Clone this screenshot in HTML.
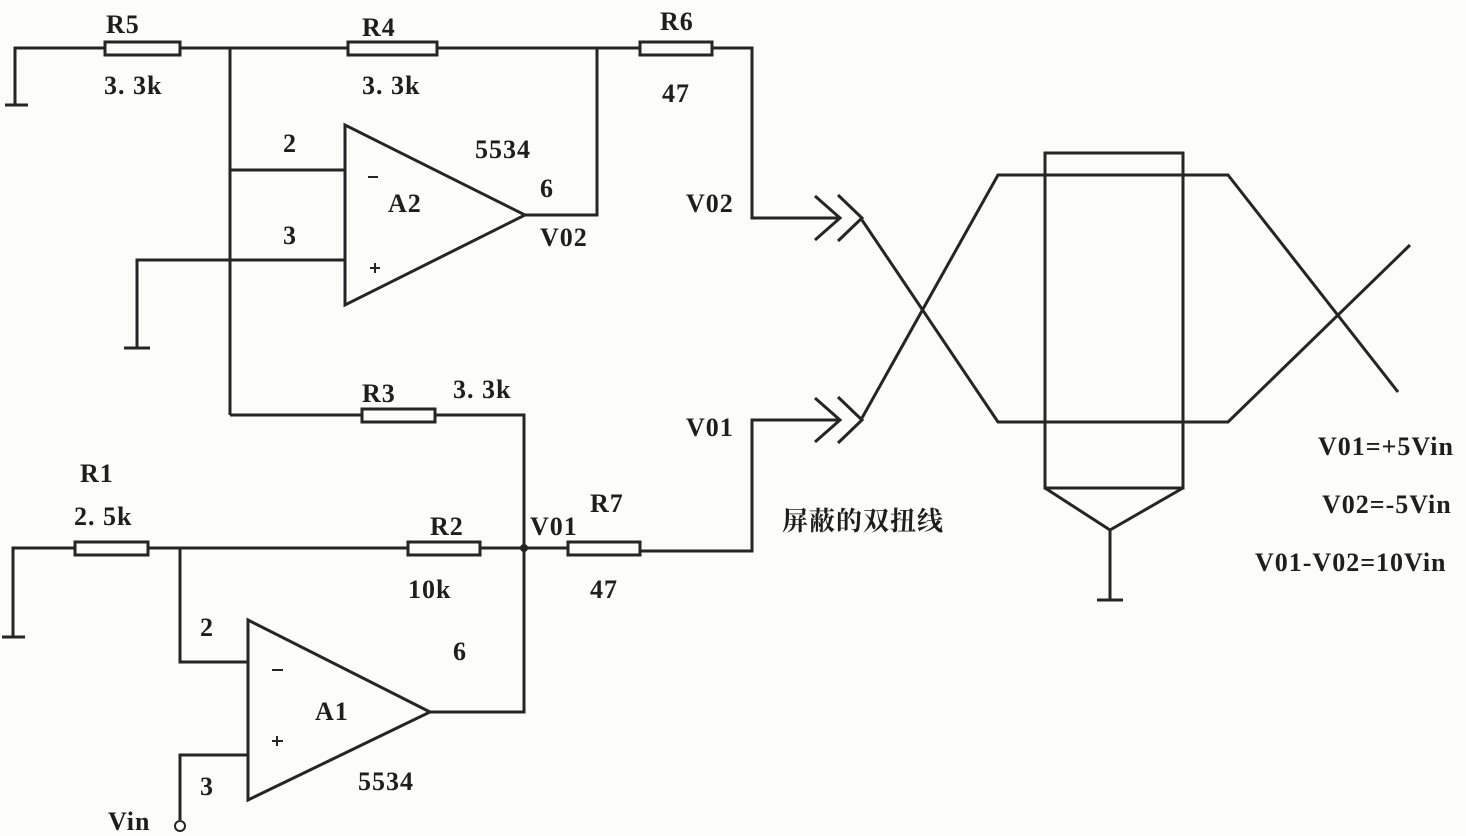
<!DOCTYPE html>
<html><head><meta charset="utf-8"><style>
html,body{margin:0;padding:0;background:#fcfcf8;}
svg{display:block}
text{font-family:"Liberation Serif","Noto Serif CJK SC",serif;font-weight:bold;fill:#1e1e1e;font-size:26px;letter-spacing:1px}
</style></head><body>
<svg width="1466" height="836" viewBox="0 0 1466 836" xmlns="http://www.w3.org/2000/svg">
<g stroke="#252525" stroke-width="3" fill="none" stroke-linejoin="miter">
<polyline points="15,105 15,48 105,48"/>
<line x1="5" y1="105" x2="28" y2="105"/>
<rect x="105" y="42" width="75" height="13"/>
<line x1="180" y1="48" x2="348" y2="48"/>
<rect x="348" y="42" width="89" height="13"/>
<line x1="437" y1="48" x2="640" y2="48"/>
<rect x="640" y="42" width="72" height="13"/>
<polyline points="712,48 752,48 752,218 838,218"/>
<line x1="230" y1="48" x2="230" y2="415"/>
<line x1="230" y1="170" x2="345" y2="170"/>
<polygon points="345,125 345,305 525,215"/>
<polyline points="525,215 597,215 597,48"/>
<polyline points="345,260 137,260 137,348"/>
<line x1="124" y1="348" x2="150" y2="348"/>
<line x1="230" y1="415" x2="362" y2="415"/>
<rect x="362" y="409" width="73" height="13"/>
<polyline points="435,415 524,415 524,712 430,712"/>
<polyline points="13,637 13,548 75,548"/>
<line x1="2" y1="637" x2="25" y2="637"/>
<rect x="75" y="542" width="73" height="13"/>
<line x1="148" y1="548" x2="408" y2="548"/>
<rect x="408" y="542" width="72" height="13"/>
<line x1="480" y1="548" x2="568" y2="548"/>
<rect x="568" y="542" width="72" height="13"/>
<polyline points="640,551 752,551 752,420 838,420"/>
<polyline points="180,548 180,662 248,662"/>
<polygon points="248,620 248,800 430,712"/>
<polyline points="248,755 180,755 180,820"/>
<polyline points="815,196 840,218 815,240"/>
<polyline points="838,195 862,218 838,241"/>
<polyline points="815,398 840,420 815,442"/>
<polyline points="838,397 862,420 838,443"/>
<polyline points="862,220 998,422 1228,422 1410,245"/>
<polyline points="862,418 998,175 1228,175 1398,392"/>
<rect x="1045" y="153" width="138" height="335"/>
<polyline points="1045,488 1110,530 1183,488"/>
<line x1="1110" y1="530" x2="1110" y2="600"/>
<line x1="1097" y1="600" x2="1123" y2="600"/>
</g>
<circle cx="524" cy="548" r="4" fill="#252525"/>
<circle cx="180" cy="826" r="5" fill="#fcfcf8" stroke="#252525" stroke-width="2"/>
<g stroke="#252525" stroke-width="2"><line x1="368" y1="177" x2="378" y2="177"/><line x1="370" y1="268" x2="380" y2="268"/><line x1="375" y1="263" x2="375" y2="273"/><line x1="272" y1="670" x2="283" y2="670"/><line x1="272" y1="741" x2="283" y2="741"/><line x1="277" y1="736" x2="277" y2="746"/></g>
<text x="106" y="33">R5</text><text x="104" y="94">3. 3k</text>
<text x="362" y="36">R4</text><text x="362" y="94">3. 3k</text>
<text x="660" y="30">R6</text><text x="662" y="102">47</text>
<text x="283" y="152">2</text><text x="283" y="244">3</text>
<text x="475" y="158">5534</text><text x="540" y="197">6</text>
<text x="388" y="212">A2</text><text x="540" y="246">V02</text>
<text x="686" y="212">V02</text>
<text x="362" y="402">R3</text><text x="453" y="398">3. 3k</text>
<text x="686" y="436">V01</text>
<text x="80" y="482">R1</text><text x="74" y="525">2. 5k</text>
<text x="430" y="535">R2</text><text x="408" y="598">10k</text>
<text x="530" y="535">V01</text><text x="590" y="512">R7</text><text x="590" y="598">47</text>
<text x="200" y="636">2</text><text x="453" y="660">6</text>
<text x="315" y="720">A1</text><text x="200" y="795">3</text>
<text x="358" y="790">5534</text><text x="108" y="830">Vin</text>
<text x="782" y="530">屏蔽的双扭线</text>
<text x="1318" y="455">V01=+5Vin</text>
<text x="1322" y="513">V02=-5Vin</text>
<text x="1255" y="571">V01-V02=10Vin</text>
</svg>
</body></html>
